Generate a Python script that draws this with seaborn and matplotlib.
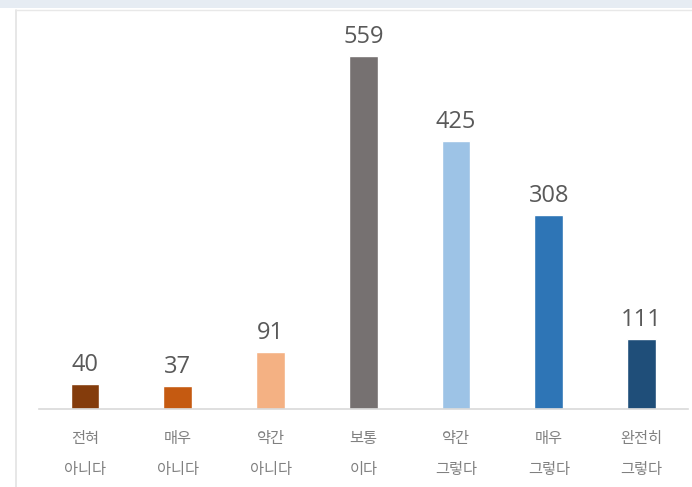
import matplotlib
matplotlib.use("Agg")
import matplotlib.pyplot as plt
import seaborn as sns
import pandas as pd
from matplotlib.patches import Rectangle
from matplotlib.lines import Line2D

categories = ["전혀\n아니다", "매우\n아니다", "약간\n아니다", "보통\n이다", "약간\n그렇다", "매우\n그렇다", "완전히\n그렇다"]
values = [40, 37, 91, 559, 425, 308, 111]
colors = ["#843C0C", "#C55A11", "#F4B183", "#767171", "#9DC3E6", "#2E75B6", "#1F4E79"]

sns.set_style("white")
plt.rcParams['font.family'] = ['Noto Sans CJK KR', 'DejaVu Sans']

df = pd.DataFrame({"cat": categories, "val": values})

fig = plt.figure(figsize=(6.92, 4.87), dpi=100)
ax = fig.add_axes([0.0558, 0.160, 0.9384, 0.801])

sns.barplot(data=df, x="cat", y="val", hue="cat", palette=colors, legend=False,
            width=0.31, ax=ax, saturation=1)

for c in ax.containers:
    ax.bar_label(c, padding=5, fontsize=17, color="#595959", family=['Open Sans', 'DejaVu Sans'])

ax.set_xlim(-0.5, 6.5)
ax.set_ylim(0, 618)
ax.set_xlabel("")
ax.set_ylabel("")
ax.set_yticks([])
for s in ["top", "left", "right"]:
    ax.spines[s].set_visible(False)
ax.spines["bottom"].set_color("#d9d9d9")
ax.spines["bottom"].set_linewidth(1.2)
ax.tick_params(axis="x", length=0, pad=15, labelsize=11, colors="#808080")
for t in ax.get_xticklabels():
    t.set_linespacing(2.05)

# screenshot frame
fig.patches.append(Rectangle((0, 1 - 8/487), 1, 8/487, transform=fig.transFigure,
                             facecolor="#e6ecf3", edgecolor="none", zorder=0))
fig.lines.append(Line2D([16/692, 16/692], [0, 1 - 10/487], transform=fig.transFigure,
                        color="#e3e3e3", lw=1.2))
fig.lines.append(Line2D([16/692, 1], [1 - 10/487, 1 - 10/487], transform=fig.transFigure,
                        color="#e8e8e8", lw=1.0))

fig.savefig("out.png", dpi=100)
